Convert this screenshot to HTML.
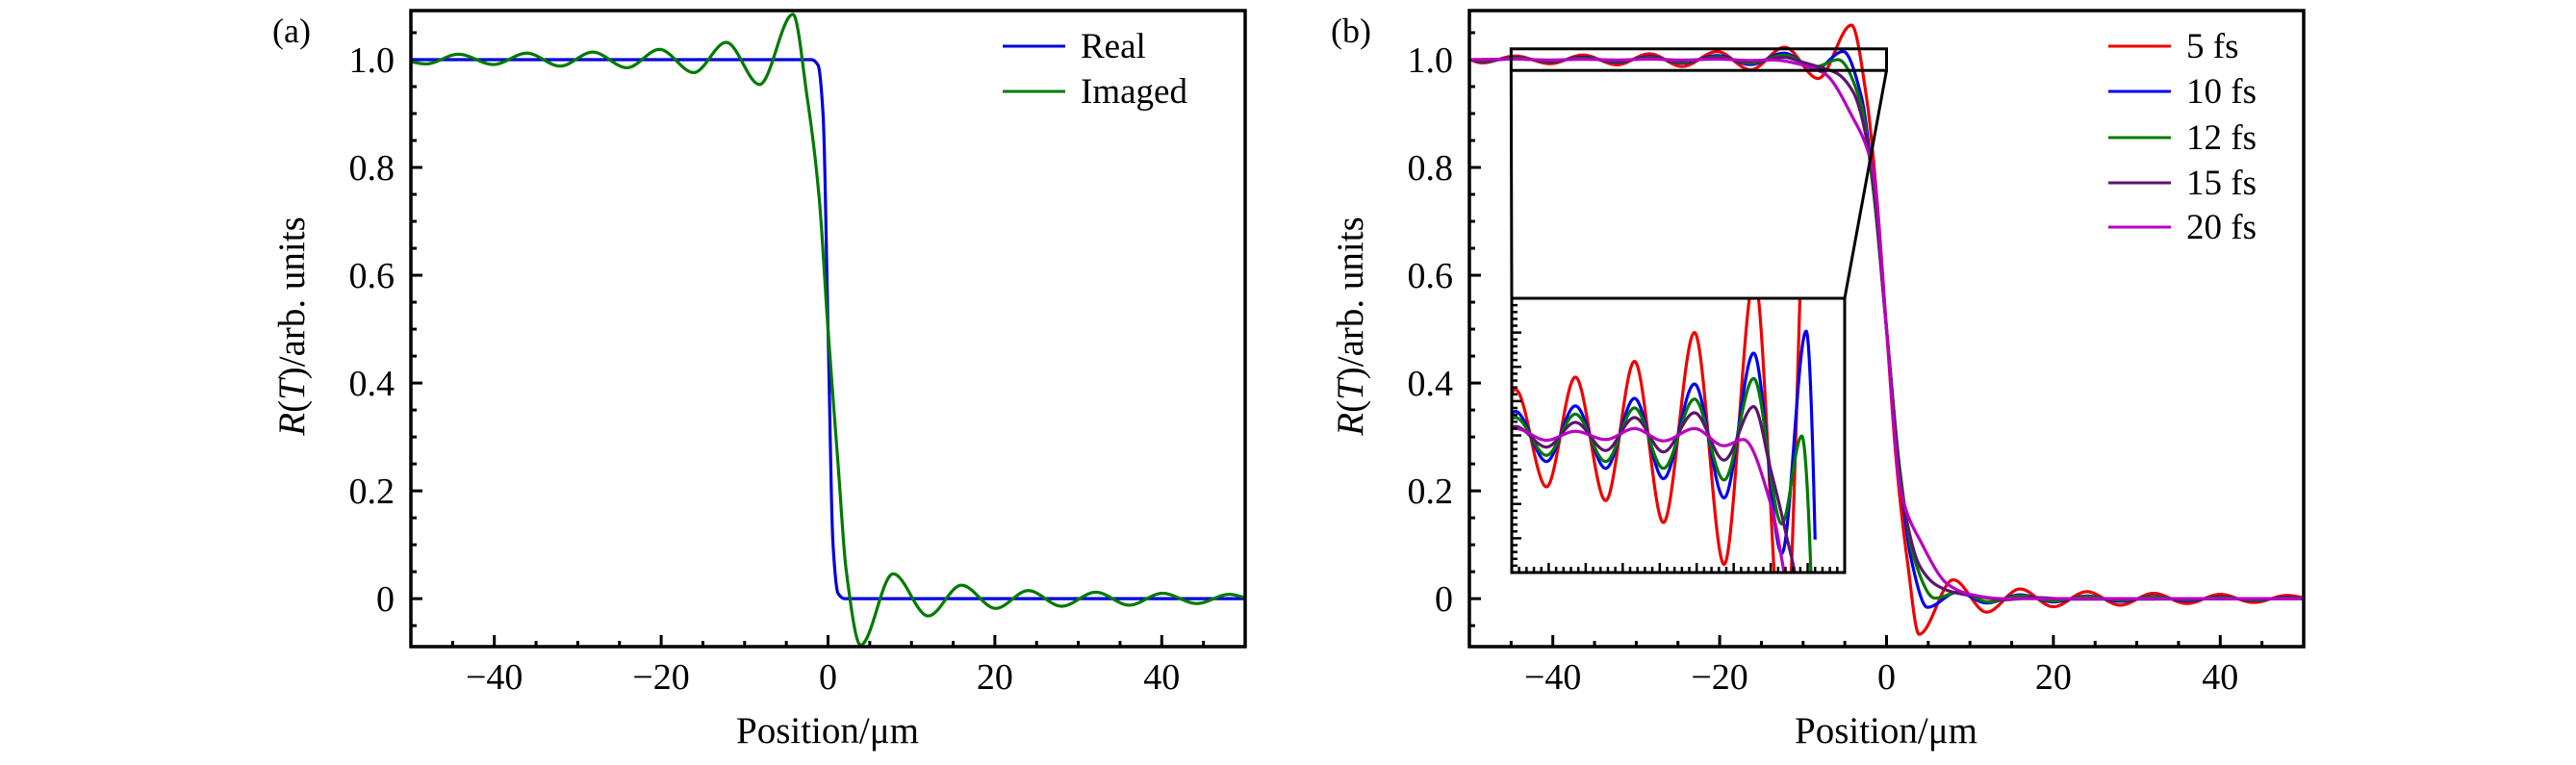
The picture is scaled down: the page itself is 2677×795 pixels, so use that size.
<!DOCTYPE html>
<html><head><meta charset="utf-8"><style>
html,body{margin:0;padding:0;background:#fff;width:2677px;height:795px;overflow:hidden}
svg{display:block}
text{font-family:"Liberation Serif","DejaVu Serif",serif;fill:#000}
</style></head><body>
<svg id="fig" width="2677" height="795" viewBox="0 0 2677 795" xmlns="http://www.w3.org/2000/svg">
<defs>
<clipPath id="clipA"><rect x="427" y="11" width="867" height="661"/></clipPath>
<clipPath id="clipB"><rect x="1527" y="11" width="867" height="661"/></clipPath>
<clipPath id="clipI"><rect x="1571" y="310" width="346" height="285"/></clipPath>
</defs>
</svg>
<script>
// ---------- data (panel a) ----------
const aRealX=[-50,-2,-1.2,-0.6,0,0.6,1.2,2,50];
const aRealY=[1,1,0.99,0.9,0.5,0.1,0.01,0,0];
const aImgX=[-50,-48.2,-44.3,-40.1,-36.1,-32.1,-28.2,-24.1,-20.2,-16.1,-12.2,-8.2,-4.2,-2.5,-1.1,0,1.2,2.2,3.9,7.8,12,16,20.1,24,28,32.1,36.1,40.1,44.2,48.1,50];
const aImgY=[0.996,0.992,1.010,0.991,1.012,0.988,1.014,0.985,1.019,0.976,1.032,0.954,1.084,0.93,0.75,0.5,0.25,0.05,-0.086,0.046,-0.032,0.025,-0.018,0.015,-0.014,0.012,-0.012,0.010,-0.009,0.008,0.002];
// ---------- data (panel b) ----------
const b5X=[-50,-48.5,-44.5,-40.3,-36.4,-32.3,-28.4,-24.5,-20.3,-16.3,-12.2,-8.2,-4.2,-2.4,-1.2,0,1.2,2.5,3.9,8,12,16,20,24,28,32,36,40,44,48,50];
const b5Y=[1.0,0.994,1.0067,0.9925,1.0085,0.9905,1.0108,0.9873,1.015,0.9812,1.023,0.965,1.064,0.93,0.75,0.5,0.25,0.07,-0.066,0.035,-0.025,0.018,-0.015,0.013,-0.012,0.010,-0.009,0.008,-0.007,0.006,0.002];
const b10X=[-50,-48.5,-44.5,-40.3,-36.4,-32.3,-28.4,-24.5,-20.3,-16.3,-12.3,-8.5,-5.2,-3,-1.5,0,1.5,3,4.9,8.5,12,16,20,24,28,32,36,40,44,48,50];
const b10Y=[1.0,0.9965,1.0035,0.9962,1.0043,0.9952,1.0054,0.9937,1.0075,0.9909,1.012,0.9828,1.0152,0.93,0.75,0.5,0.25,0.07,-0.016,0.012,-0.008,0.007,-0.006,0.005,-0.005,0.004,-0.004,0.003,-0.003,0.002,0.0];
const b12X=[-50,-48.5,-44.5,-40.3,-36.4,-32.3,-28.4,-24.5,-20.3,-16.3,-12.3,-8.5,-5.8,-3.1,-1.6,0,1.6,3.2,5.8,8.7,12.3,16,20,24,28,32,36,40,44,48,50];
const b12Y=[1.0,0.9975,1.0026,0.9971,1.0031,0.9962,1.004,0.9952,1.0053,0.9935,1.0083,0.9871,0.9999,0.92,0.76,0.5,0.24,0.08,0.001,0.012,-0.006,0.005,-0.004,0.004,-0.003,0.003,-0.002,0.002,-0.002,0.001,0.0];
const b15X=[-50,-48.5,-44.5,-40.3,-36.4,-32.3,-28.4,-24.5,-20.3,-16.3,-12.3,-10,-8,-6,-4,-2,0,2,4,6,8,11,14,18,22,50];
const b15Y=[1.0,0.9988,1.0013,0.9983,1.0019,0.9978,1.0026,0.9976,1.0033,0.9964,1.0042,0.995,0.986,0.975,0.94,0.82,0.5,0.18,0.06,0.025,0.012,0.004,-0.002,0.002,-0.001,0];
const b20X=[-50,-44.5,-40.3,-36.4,-32.3,-28.4,-24.5,-20.3,-16.3,-13.7,-10,-8.2,-7.4,-4.2,-1.7,0,1.7,4.2,7.4,10,14,50];
const b20Y=[1.0,1.001,0.9993,1.0006,0.9994,1.001,0.9992,1.001,0.9985,0.9994,0.99,0.98,0.974,0.897,0.80,0.5,0.20,0.103,0.026,0.008,0.0,0];
const xTicks=[-40,-20,0,20,40];
const xTickLabels=["\u221240","\u221220","0","20","40"];
const yTicks=[0,0.2,0.4,0.6,0.8,1.0];
const yTickLabels=["0","0.2","0.4","0.6","0.8","1.0"];
const legendA=["Real","Imaged"];
const legendB=["5 fs","10 fs","12 fs","15 fs","20 fs"];

const NS="http://www.w3.org/2000/svg";
const svg=document.getElementById('fig');
function mk(tag,attrs,parent){const e=document.createElementNS(NS,tag);for(const k in attrs)e.setAttribute(k,attrs[k]);(parent||svg).appendChild(e);return e;}

function mono(xs,ys){const n=xs.length,d=[],m=new Array(n);
 for(let i=0;i<n-1;i++)d.push((ys[i+1]-ys[i])/(xs[i+1]-xs[i]));
 m[0]=d[0];m[n-1]=d[n-2];
 for(let i=1;i<n-1;i++){if(d[i-1]*d[i]<=0)m[i]=0;else{const w1=2*(xs[i+1]-xs[i])+(xs[i]-xs[i-1]),w2=(xs[i+1]-xs[i])+2*(xs[i]-xs[i-1]);m[i]=(w1+w2)/(w1/d[i-1]+w2/d[i]);}}
 return function(x){let i=0;while(i<n-2&&x>xs[i+1])i++;const h=xs[i+1]-xs[i],t=(x-xs[i])/h,t2=t*t,t3=t2*t;
  return (2*t3-3*t2+1)*ys[i]+(t3-2*t2+t)*h*m[i]+(-2*t3+3*t2)*ys[i+1]+(t3-t2)*h*m[i+1];};}

function makeAxes(x0,y0,w,h,xmin,xmax,ymin,ymax){return {sx:v=>x0+(v-xmin)/(xmax-xmin)*w, sy:v=>y0+h-(v-ymin)/(ymax-ymin)*h, top:y0, bot:y0+h};}

function curve(ax,xs,ys,color,clip,name,x0,x1){const f=mono(xs,ys);let d='';const a=x0!==undefined?x0:xs[0],b=x1!==undefined?x1:xs[xs.length-1];
 for(let k=0;k<=1600;k++){const x=a+(b-a)*k/1600;let py=ax.sy(f(x));py=Math.max(ax.top-6,Math.min(ax.bot+6,py));d+=(k?'L':'M')+ax.sx(x).toFixed(2)+' '+py.toFixed(2);}
 const p=mk('path',{d:d,fill:'none',stroke:color,'stroke-width':3.2,'clip-path':'url(#'+clip+')'});
 
 
 return p;}

function panel(off,letter){
 const ax=makeAxes(427+off,11,867,661,-50,50,-0.089,1.091);
 const g=mk('g',{});
 
 
 for(let v=-45;v<=50;v+=5){const major=(v%20===0);const x=ax.sx(v);
  const t=mk('line',{x1:x,x2:x,y1:672,y2:672-(major?12:6),stroke:'#000','stroke-width':3},g);
  
  }
 for(let i=-1;i<=21;i++){const v=i*0.05;if(v<-0.089||v>1.091)continue;const major=(i%4===0);const y=ax.sy(v);
  const t=mk('line',{x1:427+off,x2:427+off+(major?12:6),y1:y,y2:y,stroke:'#000','stroke-width':3},g);
  
  }
 xTicks.forEach((v,i)=>{const t=mk('text',{x:ax.sx(v),y:716,'font-size':38,'text-anchor':'middle'},g);t.textContent=xTickLabels[i];
  
  });
 yTicks.forEach((v,i)=>{const t=mk('text',{x:410+off,y:ax.sy(v)+13,'font-size':38,'text-anchor':'end'},g);t.textContent=yTickLabels[i];
  
  });
 const xl=mk('text',{x:860+off,y:772,'font-size':39,'text-anchor':'middle'},g);xl.textContent='Position/\u03bcm';
 
 
 const yl=mk('text',{x:0,y:0,'font-size':39,'text-anchor':'middle',transform:'translate('+(316+off)+',339) rotate(-90)'},g);
 yl.innerHTML='<tspan font-style="italic">R</tspan>(<tspan font-style="italic">T</tspan>)/arb. units';
 
 
 const pl=mk('text',{x:283+off,y:44,'font-size':36},g);pl.textContent='('+letter+')';
 
 
 return {ax,g};}

const A=panel(0,'a');
curve(A.ax,aRealX,aRealY,'#0000dd','clipA','real-line');
curve(A.ax,aImgX,aImgY,'#007a00','clipA','imaged-line');
mk('rect',{x:427,y:11,width:867,height:661,fill:'none',stroke:'#000','stroke-width':3.5});
[['Real','#0000dd',48],['Imaged','#007a00',95]].forEach((e,i)=>{
 const l=mk('line',{x1:1042,x2:1107,y1:e[2],y2:e[2],stroke:e[1],'stroke-width':3});
 
 
 const t=mk('text',{x:1123,y:e[2]+12,'font-size':37});t.textContent=legendA[i];
 
 });

const B=panel(1100,'b');
const series=[[b5X,b5Y,'#ee0000'],[b10X,b10Y,'#0000ee'],[b12X,b12Y,'#007a00'],[b15X,b15Y,'#5c1470'],[b20X,b20Y,'#b800c0']];
series.forEach((s,i)=>curve(B.ax,s[0],s[1],s[2],'clipB','series-'+legendB[i].replace(' ','')));
mk('rect',{x:1527,y:11,width:867,height:661,fill:'none',stroke:'#000','stroke-width':3.5});
const zx0=B.ax.sx(-45),zx1=B.ax.sx(0),zy0=B.ax.sy(1.02),zy1=B.ax.sy(0.98);
const zr=mk('rect',{x:zx0,y:zy0,width:zx1-zx0,height:zy1-zy0,fill:'none',stroke:'#000','stroke-width':3});


mk('line',{x1:zx0,y1:zy1,x2:1571,y2:310,stroke:'#000','stroke-width':3});
mk('line',{x1:zx1,y1:zy1,x2:1917,y2:310,stroke:'#000','stroke-width':3});
const ig=mk('g',{});


mk('rect',{x:1571,y:310,width:346,height:285,fill:'#fff'},ig);
const IA=makeAxes(1571,310,346,285,-45,0,0.98,1.02);
series.forEach((s,i)=>{curve(IA,s[0],s[1],s[2],'clipI','inset-series-'+legendB[i].replace(' ',''),-45,-4);});
for(let v=-44;v<=-1;v++){const x=IA.sx(v);const L=(v%5===0)?10:6;mk('line',{x1:x,x2:x,y1:595,y2:595-L,stroke:'#000','stroke-width':2.5});}
for(let i=1;i<40;i++){const v=0.98+i*0.001;const y=IA.sy(v);const L=(i%5===0)?10:6;mk('line',{x1:1571,x2:1571+L,y1:y,y2:y,stroke:'#000','stroke-width':2.5});}
mk('rect',{x:1571,y:310,width:346,height:285,fill:'none',stroke:'#000','stroke-width':3});
[48,95,143,190,236].forEach((y,i)=>{
 const l=mk('line',{x1:2191,x2:2256,y1:y,y2:y,stroke:series[i][2],'stroke-width':3});
 
 
 const t=mk('text',{x:2272,y:y+12,'font-size':37});t.textContent=legendB[i];
 
 });
</script>
</body></html>
